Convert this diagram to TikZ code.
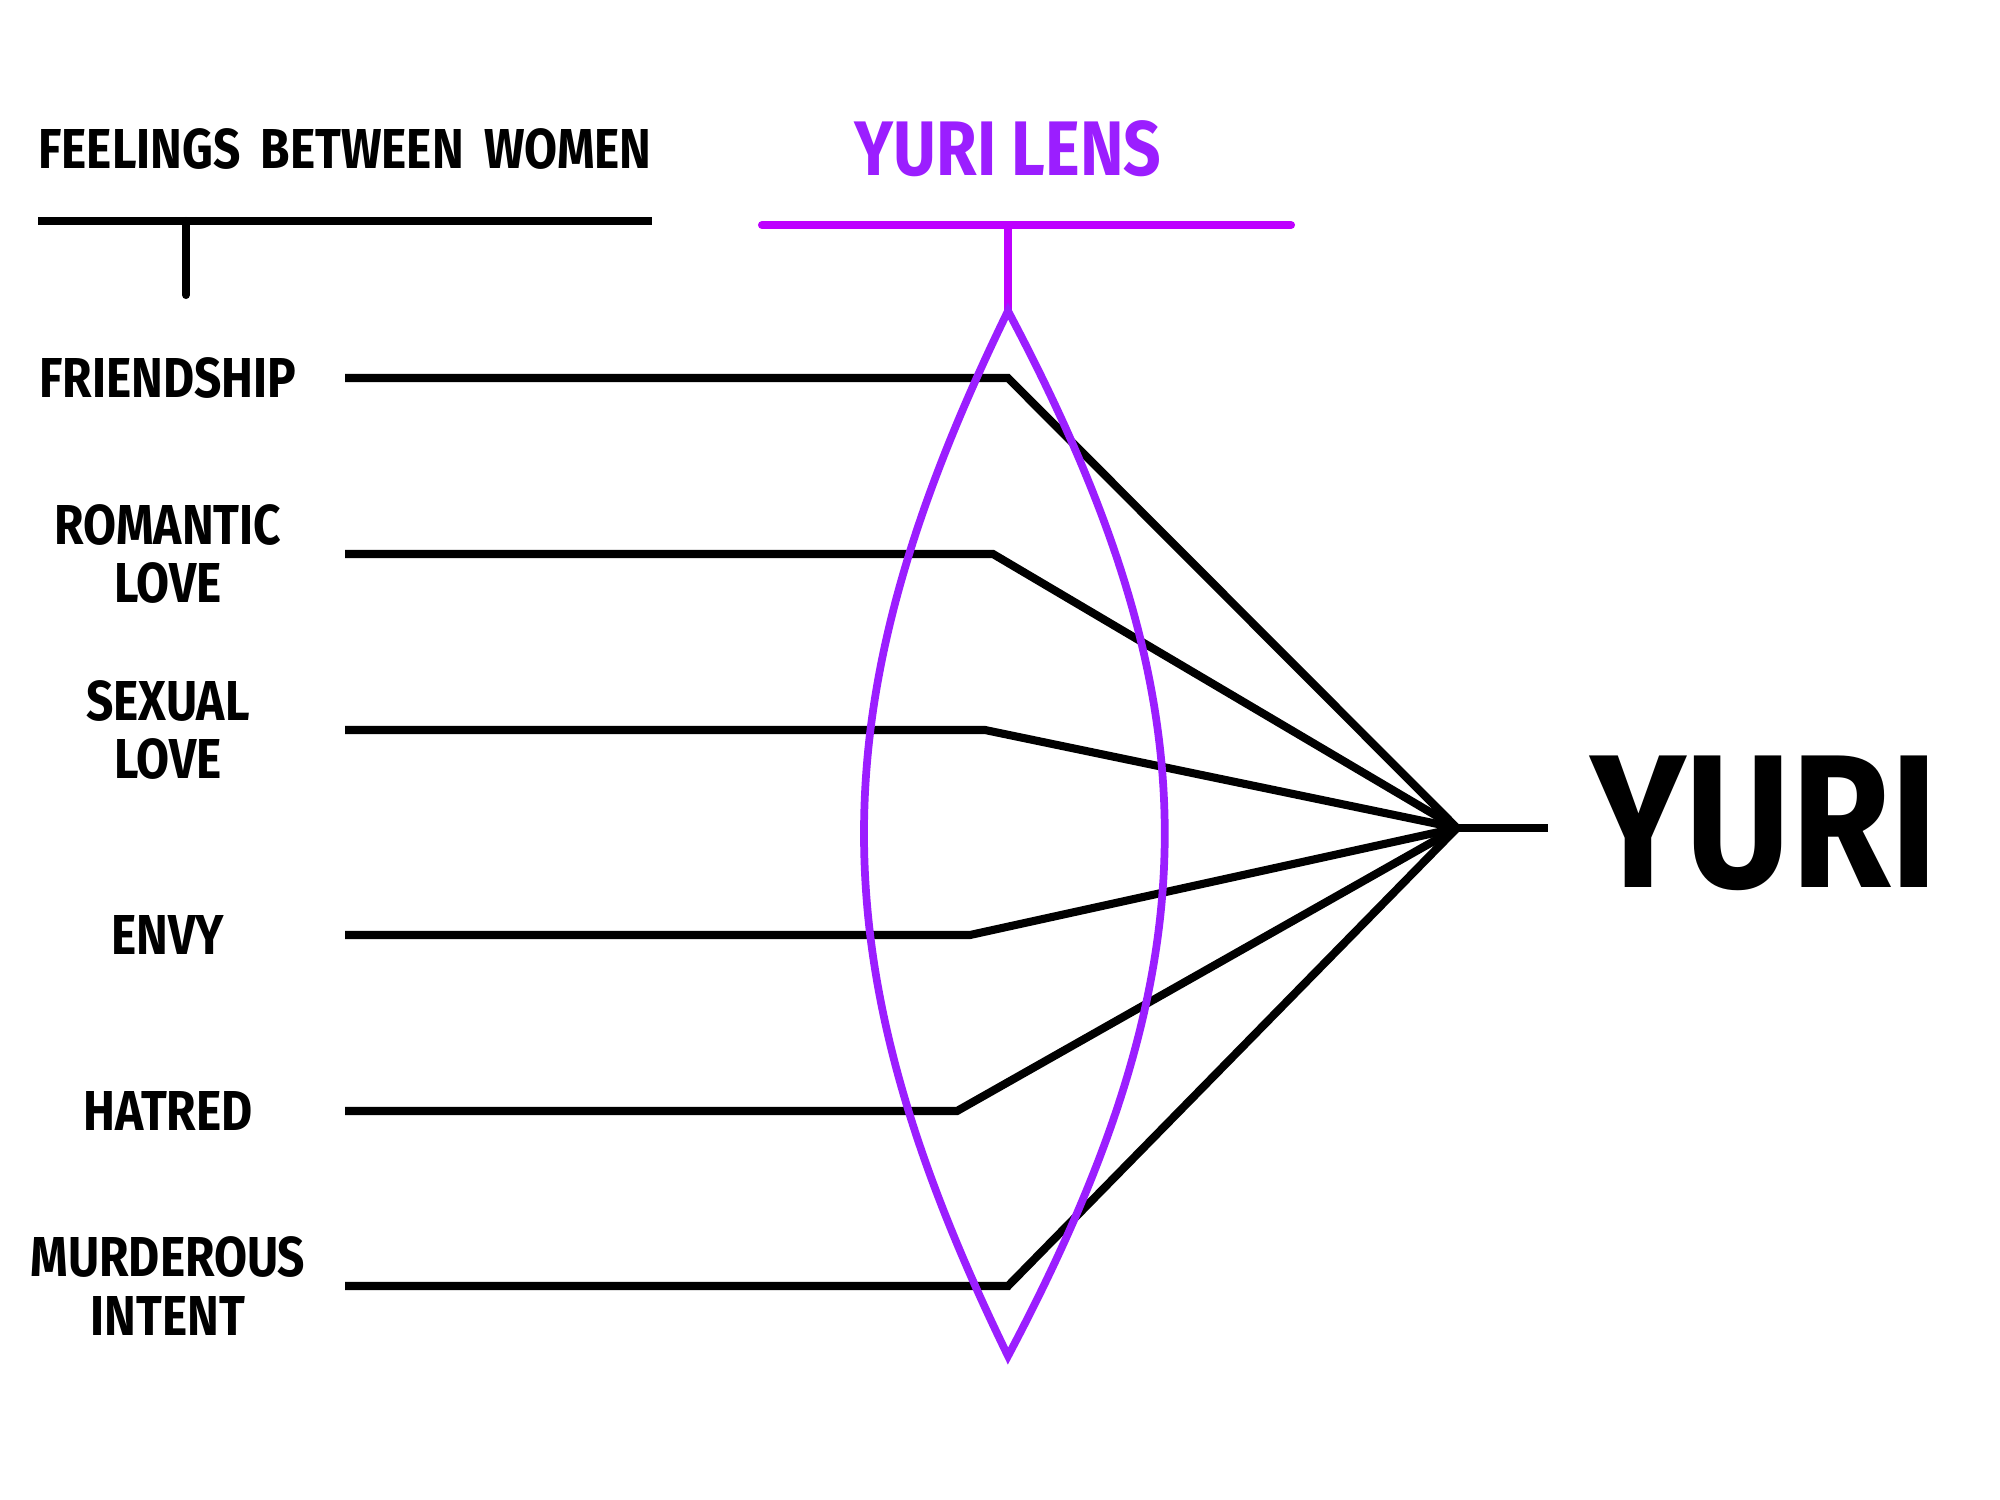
\documentclass[tikz,border=0pt]{standalone}
\usepackage{fontspec}
\setmainfont{Fira Sans}[FakeStretch=0.85]
\usetikzlibrary{positioning,calc}
\definecolor{lensviolet}{RGB}{155,30,255}
\definecolor{barviolet}{RGB}{190,0,255}

\begin{document}
\begin{tikzpicture}[x=0.01cm,y=-0.01cm,line width=2.3pt,
    feel/.style={font=\fontsize{16}{16.5}\selectfont\bfseries, align=center}]
    \useasboundingbox (0,0) rectangle (2000,1500);

    % left header
    \node[feel] (head) at (345,149) {\spaceskip=0.36em\relax FEELINGS BETWEEN WOMEN};
    \coordinate (barL) at (38,221);
    \coordinate (barR) at (652,221);
    \coordinate (tick) at (186,295);
    \draw (barL) -- (barR);
    \draw[line cap=round] (barL -| tick) -- (tick);

    % lens header
    \node[font=\fontsize{22}{24}\selectfont\bfseries, text=lensviolet] (lenshead) at (1008,149) {YURI LENS};
    \coordinate (lbarL) at (762,225);
    \coordinate (lbarR) at (1291,225);
    \coordinate (top) at (1008,311);
    \coordinate (bot) at (1008,1356);
    \draw[barviolet, line cap=round] (lbarL) -- (lbarR);
    \draw[barviolet, line width=2pt] (lbarL -| top) -- (top);

    % the feelings
    \coordinate (focus) at (1457,828);
    \foreach \i/\y/\bx/\txt in {1/378/1008/FRIENDSHIP, 2/554/993/ROMANTIC\\LOVE, 3/730/985/SEXUAL\\LOVE,
                                4/935/970/ENVY, 5/1111/957/HATRED, 6/1286/1008/MURDEROUS\\INTENT} {
        \node[feel] (f\i) at (168,\y) {\txt};
        \coordinate (s\i) at (345,\y);
        \coordinate (b\i) at (\bx,\y);
        \draw (s\i) -- (b\i) -- (focus);
    }

    % lens
    \draw[lensviolet, line width=2.2pt] (top) .. controls (816,705) and (816,962) .. (bot)
        .. controls (1217,962) and (1217,705) .. (top) -- cycle;

    % result
    \node[font=\fontsize{54}{58}\selectfont\bfseries] (yuri) at (1764,823) {YURI};
    \coordinate (stub) at (1548,828);
    \draw (focus) -- (stub);
\end{tikzpicture}
\end{document}
